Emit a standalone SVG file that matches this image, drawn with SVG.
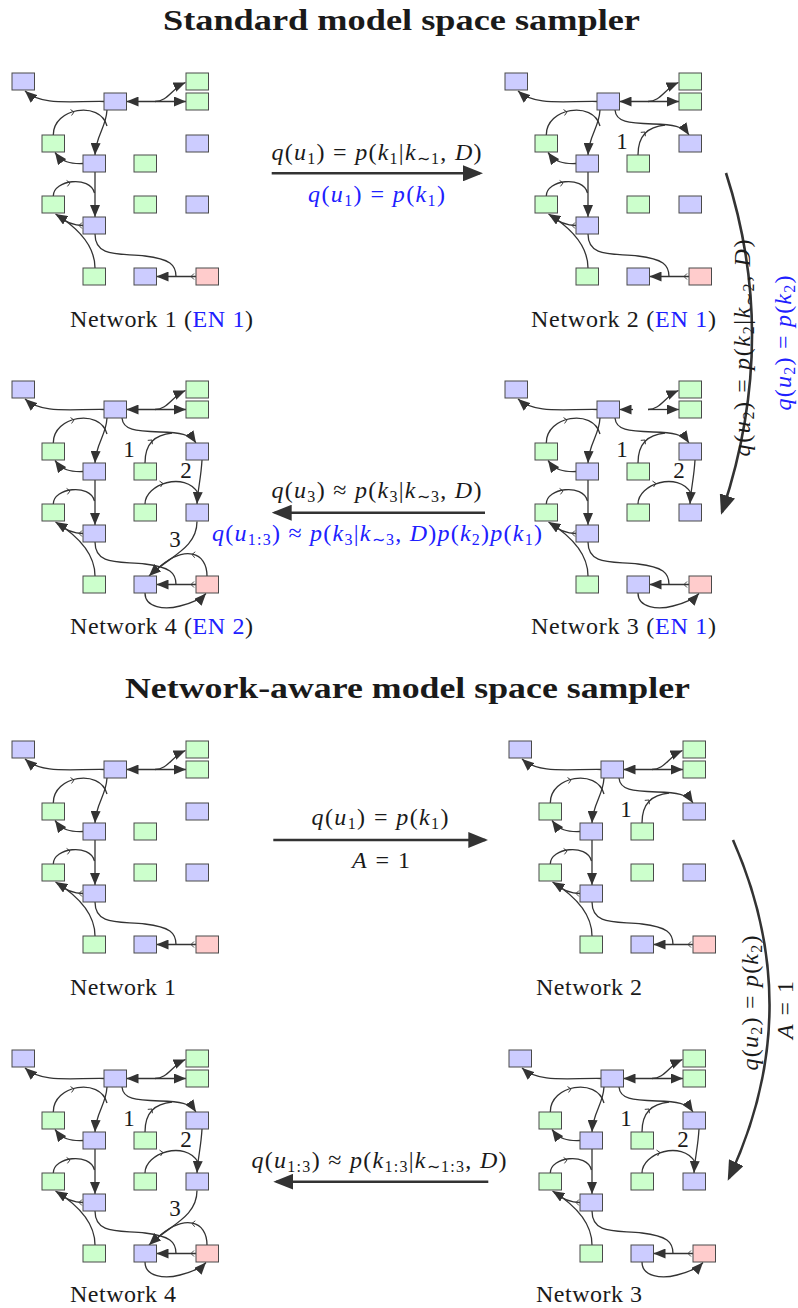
<svg xmlns="http://www.w3.org/2000/svg" width="798" height="1308" viewBox="0 0 798 1308">
<defs>
<style>
.bl{fill:#ccccff;stroke:#4a4a4a;stroke-width:1}
.gr{fill:#ccffcc;stroke:#4a4a4a;stroke-width:1}
.rd{fill:#ffcccc;stroke:#4a4a4a;stroke-width:1}
.ed{fill:none;stroke:#333;stroke-width:1.3}
.ar{marker-end:url(#ah)}
.bd{marker-start:url(#ah);marker-end:url(#ah)}
.ch{fill:none;stroke:#333;stroke-width:0.9}
.big{fill:none;stroke:#333;stroke-width:2.6;marker-end:url(#bah)}
text{font-family:"Liberation Serif","Times New Roman",serif;fill:#1a1a1a}
.t{font-size:29px;font-weight:bold}
.lb{font-size:24px}
.m{font-size:24px}
.i{font-style:italic}
.s{font-size:16px}
.b{fill:#2020ff}
.n{font-size:23px}
</style>
<marker id="ah" viewBox="0 0 12 10" refX="12" refY="5" markerWidth="12" markerHeight="10" markerUnits="userSpaceOnUse" orient="auto-start-reverse"><path d="M0,0L12,5L0,10z" fill="#333"/></marker>
<marker id="bah" viewBox="0 0 20 16" refX="17" refY="8" markerWidth="20" markerHeight="16" markerUnits="userSpaceOnUse" orient="auto"><path d="M0,0L20,8L0,16z" fill="#333"/></marker>
<path id="chv" d="M-3,-3L0,0L-3,3" class="ch"/>
<g id="bx">
<g id="nA"><rect class="bl" x="12" y="73" width="22.5" height="17"/></g>
<g id="nB"><rect class="bl" x="104" y="93" width="22.5" height="17"/></g>
<g id="nG1"><rect class="gr" x="186" y="73" width="22.5" height="17"/></g>
<g id="nG2"><rect class="gr" x="186" y="93" width="22.5" height="17"/></g>
<g id="nC"><rect class="gr" x="42" y="135" width="22.5" height="17"/></g>
<g id="nD"><rect class="bl" x="186" y="135" width="22.5" height="17"/></g>
<g id="nE"><rect class="bl" x="83" y="155" width="22.5" height="17"/></g>
<g id="nF"><rect class="gr" x="134" y="155" width="22.5" height="17"/></g>
<g id="nG"><rect class="gr" x="42" y="196" width="22.5" height="17"/></g>
<g id="nH"><rect class="gr" x="134" y="196" width="22.5" height="17"/></g>
<g id="nI"><rect class="bl" x="186" y="196" width="22.5" height="17"/></g>
<g id="nJ"><rect class="bl" x="83" y="217" width="22.5" height="17"/></g>
<g id="nK"><rect class="gr" x="83" y="268" width="22.5" height="17"/></g>
<g id="nL"><rect class="bl" x="134" y="268" width="22.5" height="17"/></g>
<g id="nM"><rect class="rd" x="196" y="268" width="22.5" height="17"/></g>
</g>
<g id="be">
<path class="ed ar" d="M104,101.5C70,101 42,106 25,91"/>
<path class="ed ar" d="M155,101.5C168,101.5 172,88 185.5,82.5"/>
<path class="ed ar" d="M107,110C106,128 96,135 95,155"/>
<path class="ed" d="M53.3,135C53,108 100,100 107,126"/>
<use href="#chv" transform="translate(74,112) rotate(-10)"/>
<path class="ed ar" d="M83,163.5C70,164 62,162 55,152.5"/>
<path class="ed ar" d="M95,172L95,217"/>
<path class="ed" d="M53.3,196C53,180 90,175 94.5,193"/>
<use href="#chv" transform="translate(70,183) rotate(-8)"/>
<path class="ed ar" d="M95,268C95,245 78,228 55.5,214"/>
<path class="ed" d="M83,225.5C72,225.5 64,221 57,215.5"/>
<use href="#chv" transform="translate(79,225.5) rotate(180)"/>
<path class="ed" d="M95,234C95,258 120,253 145,256C170,259 176,265 176,276.5"/>
<path class="ed ar" d="M196,276.5L156.5,276.5"/>
<use href="#chv" transform="translate(191,276.5) rotate(180)"/>
</g>
<path id="e2f" class="ed bd" d="M126.5,101.5L186,101.5"/>
<g id="e2b">
<path class="ed ar" d="M140,101.5L126.5,101.5"/>
<path class="ed ar" d="M155,101.5L186,101.5"/>
</g>
<g id="a1">
<path class="ed ar" d="M122,110C123,122 135,123 160,124C180,124.5 190,126 196,135"/>
<path class="ed" d="M145,155C145,135 155,127 172,125"/>
<use href="#chv" transform="translate(152,132) rotate(-50)"/>
<text class="n" x="129" y="149" text-anchor="middle">1</text>
</g>
<g id="a2">
<path class="ed ar" d="M202,152C201,170 198,180 197,196"/>
<path class="ed" d="M145,196C145,176 185,163 198,185"/>
<use href="#chv" transform="translate(163,175.5) rotate(-10)"/>
<path class="ed ar" d="M145,285C145,300 165,302 180,298C192,295 200,292 206,285.5"/>
<text class="n" x="186" y="170" text-anchor="middle">2</text>
</g>
<g id="a3">
<path class="ed ar" d="M197,213.5C197,240 170,248 149,268"/>
<path class="ed" d="M207,268C207,244 185,236 157,261"/>
<use href="#chv" transform="translate(192,246.5) rotate(185)"/>
<text class="n" x="175" y="238.5" text-anchor="middle">3</text>
</g>
</defs>
<rect width="798" height="1308" fill="#ffffff"/>

<g id="titles">
<text class="t" x="401.5" y="30" text-anchor="middle" textLength="477" lengthAdjust="spacingAndGlyphs">Standard model space sampler</text>
<text class="t" x="407.5" y="698" text-anchor="middle" textLength="565" lengthAdjust="spacingAndGlyphs">Network-aware model space sampler</text>
</g>

<g id="net1-std">
<g transform="translate(0,0)"><use href="#be"/><use href="#e2f"/><use href="#bx"/></g>
<text class="lb" x="70" y="327" textLength="183">Network 1 (<tspan class="b">EN 1</tspan>)</text>
</g>
<g id="net2-std">
<g transform="translate(493,0)"><use href="#be"/><use href="#e2f"/><use href="#a1"/><use href="#bx"/></g>
<text class="lb" x="531" y="327" textLength="185">Network 2 (<tspan class="b">EN 1</tspan>)</text>
</g>
<g id="net3-std">
<g transform="translate(493,308)"><use href="#be"/><use href="#e2b"/><use href="#a1"/><use href="#a2"/><use href="#bx"/></g>
<text class="lb" x="531" y="634" textLength="185">Network 3 (<tspan class="b">EN 1</tspan>)</text>
</g>
<g id="net4-std">
<g transform="translate(0,308)"><use href="#be"/><use href="#e2f"/><use href="#a1"/><use href="#a2"/><use href="#a3"/><use href="#bx"/></g>
<text class="lb" x="70" y="634" textLength="183">Network 4 (<tspan class="b">EN 2</tspan>)</text>
</g>

<g id="net1-aw">
<g transform="translate(0,668)"><use href="#be"/><use href="#e2f"/><use href="#bx"/></g>
<text class="lb" x="70" y="995" textLength="106">Network 1</text>
</g>
<g id="net2-aw">
<g transform="translate(497,668)"><use href="#be"/><use href="#e2f"/><use href="#a1"/><use href="#bx"/></g>
<text class="lb" x="536" y="995" textLength="106">Network 2</text>
</g>
<g id="net3-aw">
<g transform="translate(497,977)"><use href="#be"/><use href="#e2f"/><use href="#a1"/><use href="#a2"/><use href="#bx"/></g>
<text class="lb" x="536" y="1302" textLength="106">Network 3</text>
</g>
<g id="net4-aw">
<g transform="translate(0,977)"><use href="#be"/><use href="#e2f"/><use href="#a1"/><use href="#a2"/><use href="#a3"/><use href="#bx"/></g>
<text class="lb" x="70" y="1302" textLength="106">Network 4</text>
</g>

<g id="connectors">
<path class="big" d="M271.7,173.3L480,173.3"/>
<path class="big" d="M726,173Q780,340 722,512"/>
<path class="big" d="M485,512.7L274.7,512.7"/>
<path class="big" d="M273.3,840L485.3,840"/>
<path class="big" d="M733,840Q808,1010 729,1178"/>
<path class="big" d="M488.3,1181.7L276.3,1181.7"/>
</g>

<g id="labels">
<text class="m" x="376.5" y="160" text-anchor="middle" textLength="210"><tspan class="i">q</tspan>(<tspan class="i">u</tspan><tspan class="s" dy="4">1</tspan><tspan dy="-4">) = </tspan><tspan class="i">p</tspan>(<tspan class="i">k</tspan><tspan class="s" dy="4">1</tspan><tspan dy="-4">|</tspan><tspan class="i">k</tspan><tspan class="s" dy="4">∼1</tspan><tspan dy="-4">, </tspan><tspan class="i">D</tspan>)</text>
<text class="m b" x="376.5" y="202" text-anchor="middle" textLength="137"><tspan class="i">q</tspan>(<tspan class="i">u</tspan><tspan class="s" dy="4">1</tspan><tspan dy="-4">) = </tspan><tspan class="i">p</tspan>(<tspan class="i">k</tspan><tspan class="s" dy="4">1</tspan><tspan dy="-4">)</tspan></text>

<text class="m" transform="translate(750,348) rotate(-90)" text-anchor="middle" textLength="217"><tspan class="i">q</tspan>(<tspan class="i">u</tspan><tspan class="s" dy="4">2</tspan><tspan dy="-4">) = </tspan><tspan class="i">p</tspan>(<tspan class="i">k</tspan><tspan class="s" dy="4">2</tspan><tspan dy="-4">|</tspan><tspan class="i">k</tspan><tspan class="s" dy="4">∼2</tspan><tspan dy="-4">, </tspan><tspan class="i">D</tspan>)</text>
<text class="m b" transform="translate(791,343) rotate(-90)" text-anchor="middle" textLength="135"><tspan class="i">q</tspan>(<tspan class="i">u</tspan><tspan class="s" dy="4">2</tspan><tspan dy="-4">) = </tspan><tspan class="i">p</tspan>(<tspan class="i">k</tspan><tspan class="s" dy="4">2</tspan><tspan dy="-4">)</tspan></text>

<text class="m" x="376.5" y="498" text-anchor="middle" textLength="210"><tspan class="i">q</tspan>(<tspan class="i">u</tspan><tspan class="s" dy="4">3</tspan><tspan dy="-4">) ≈ </tspan><tspan class="i">p</tspan>(<tspan class="i">k</tspan><tspan class="s" dy="4">3</tspan><tspan dy="-4">|</tspan><tspan class="i">k</tspan><tspan class="s" dy="4">∼3</tspan><tspan dy="-4">, </tspan><tspan class="i">D</tspan>)</text>
<text class="m b" x="377" y="541" text-anchor="middle" textLength="330"><tspan class="i">q</tspan>(<tspan class="i">u</tspan><tspan class="s" dy="4">1:3</tspan><tspan dy="-4">) ≈ </tspan><tspan class="i">p</tspan>(<tspan class="i">k</tspan><tspan class="s" dy="4">3</tspan><tspan dy="-4">|</tspan><tspan class="i">k</tspan><tspan class="s" dy="4">∼3</tspan><tspan dy="-4">, </tspan><tspan class="i">D</tspan>)<tspan class="i">p</tspan>(<tspan class="i">k</tspan><tspan class="s" dy="4">2</tspan><tspan dy="-4">)</tspan><tspan class="i">p</tspan>(<tspan class="i">k</tspan><tspan class="s" dy="4">1</tspan><tspan dy="-4">)</tspan></text>

<text class="m" x="380" y="825" text-anchor="middle" textLength="137"><tspan class="i">q</tspan>(<tspan class="i">u</tspan><tspan class="s" dy="4">1</tspan><tspan dy="-4">) = </tspan><tspan class="i">p</tspan>(<tspan class="i">k</tspan><tspan class="s" dy="4">1</tspan><tspan dy="-4">)</tspan></text>
<text class="m" x="381" y="868" text-anchor="middle" textLength="58"><tspan class="i">A</tspan> = 1</text>

<text class="m" transform="translate(758,1003) rotate(-90)" text-anchor="middle" textLength="135"><tspan class="i">q</tspan>(<tspan class="i">u</tspan><tspan class="s" dy="4">2</tspan><tspan dy="-4">) = </tspan><tspan class="i">p</tspan>(<tspan class="i">k</tspan><tspan class="s" dy="4">2</tspan><tspan dy="-4">)</tspan></text>
<text class="m" transform="translate(793,1010) rotate(-90)" text-anchor="middle" textLength="58"><tspan class="i">A</tspan> = 1</text>

<text class="m" x="379" y="1168" text-anchor="middle" textLength="255"><tspan class="i">q</tspan>(<tspan class="i">u</tspan><tspan class="s" dy="4">1:3</tspan><tspan dy="-4">) ≈ </tspan><tspan class="i">p</tspan>(<tspan class="i">k</tspan><tspan class="s" dy="4">1:3</tspan><tspan dy="-4">|</tspan><tspan class="i">k</tspan><tspan class="s" dy="4">∼1:3</tspan><tspan dy="-4">, </tspan><tspan class="i">D</tspan>)</text>
</g>
</svg>
